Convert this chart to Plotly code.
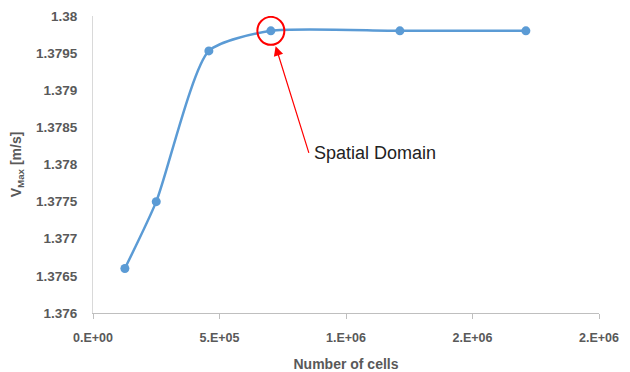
import plotly.graph_objects as go

cells = [126000, 250000, 458000, 703000, 1213000, 1711000]
vmax = [1.3766, 1.3775, 1.37953, 1.3798, 1.3798, 1.3798]

x_tickvals = [0, 500000, 1000000, 1500000, 2000000]
x_ticktext = ["0.E+00", "5.E+05", "1.E+06", "2.E+06", "2.E+06"]
y_tickvals = [1.376, 1.3765, 1.377, 1.3775, 1.378, 1.3785, 1.379, 1.3795, 1.38]
y_ticktext = ["1.376", "1.3765", "1.377", "1.3775", "1.378", "1.3785", "1.379", "1.3795", "1.38"]

highlight_idx = 3
annot_text = "Spatial Domain"

blue = "#5B9BD5"
grey = "#595959"
font_fam = "Liberation Sans, Arial, sans-serif"

# the page body adds an 8px margin; compensate so the figure fills 630x372
PAD = 8

fig = go.Figure()
fig.add_trace(go.Scatter(
    x=cells, y=vmax, mode="lines+markers",
    line=dict(color=blue, width=2.5, shape="spline", smoothing=0.62),
    marker=dict(color=blue, size=9),
    showlegend=False,
))

hx, hy = cells[highlight_idx], vmax[highlight_idx]
fig.add_shape(type="circle", xref="x", yref="y", xsizemode="pixel", ysizemode="pixel",
              xanchor=hx, yanchor=hy, x0=-13.5, x1=13.5, y0=-14, y1=14,
              line=dict(color="#FF0000", width=2))
fig.add_annotation(x=hx, y=hy, xref="x", yref="y", text=annot_text, showarrow=True,
                   xanchor="left", yanchor="middle", borderpad=4,
                   arrowhead=2, arrowsize=1.6, arrowwidth=1.2, arrowcolor="#FF0000",
                   standoff=16, ax=38, ay=122,
                   font=dict(family=font_fam, size=18, color="#222222"))

fig.update_layout(
    width=630 - PAD, height=372 - PAD,
    margin=dict(l=93 - PAD, r=31, t=16 - PAD, b=59),
    plot_bgcolor="white", paper_bgcolor="white",
    xaxis=dict(range=[0, 2000000], tickvals=x_tickvals, ticktext=x_ticktext, automargin=False,
               showgrid=False, zeroline=False, showline=True, linecolor="#BFBFBF", linewidth=1,
               ticks="outside", ticklen=5, tickcolor="#BFBFBF", ticklabelstandoff=8,
               tickfont=dict(family=font_fam, size=12.5, color=grey, weight="bold"),
               title=dict(text="Number of cells", standoff=18,
                          font=dict(family=font_fam, size=14, color=grey, weight="bold"))),
    yaxis=dict(range=[1.376, 1.38], tickvals=y_tickvals, ticktext=y_ticktext, automargin=False,
               showgrid=False, zeroline=False, showline=True, linecolor="#D9D9D9", linewidth=1,
               ticks="", ticklabelstandoff=12, ticklabeloverflow="allow",
               tickfont=dict(family=font_fam, size=13.5, color=grey, weight="bold"),
               title=dict(text="V<sub>Max</sub> [m/s]", standoff=17,
                          font=dict(family=font_fam, size=14, color=grey, weight="bold"))),
)

fig.write_html("out.html")
